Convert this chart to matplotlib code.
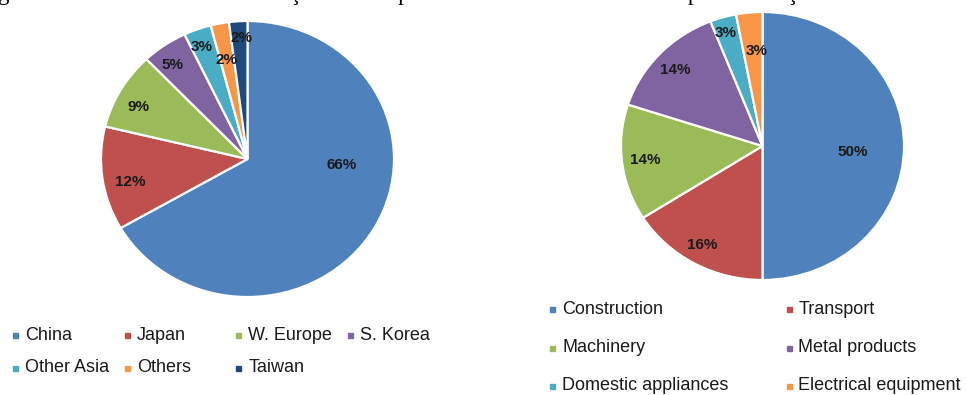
import matplotlib.pyplot as plt

plt.rcParams['font.family'] = ['Liberation Sans', 'DejaVu Sans']

# Finished steel demand by region
regions = ['China', 'Japan', 'W. Europe', 'S. Korea', 'Other Asia', 'Others', 'Taiwan']
region_share = [66, 12, 9, 5, 3, 2, 2]

# Finished steel demand by sector
sectors = ['Construction', 'Transport', 'Machinery', 'Metal products',
           'Domestic appliances', 'Electrical equipment']
sector_share = [50, 16, 14, 14, 3, 3]

region_colors = ['#4F81BD', '#C0504D', '#9BBB59', '#8064A2', '#4BACC6', '#F79646', '#1F497D']
sector_colors = ['#4F81BD', '#C0504D', '#9BBB59', '#8064A2', '#4BACC6', '#F79646']

# where the percentage labels sit inside each pie (unit radius)
region_label_xy = [(0.645, -0.043), (-0.802, -0.167), (-0.741, 0.377), (-0.515, 0.681),
                   (-0.311, 0.812), (-0.140, 0.717), (-0.038, 0.877)]
sector_label_xy = [(0.640, -0.045), (-0.428, -0.739), (-0.830, -0.104), (-0.618, 0.567),
                   (-0.258, 0.843), (-0.039, 0.709)]

W, H = 967, 395
fig = plt.figure(figsize=(W / 100, H / 100), dpi=100)

# overlay in pixel coordinates for the legends and the caption line
bg = fig.add_axes([0, 0, 1, 1], zorder=0)
bg.set_xlim(0, W)
bg.set_ylim(H, 0)
bg.axis('off')


def pie_axes(cx, cy, rx, ry):
    ax = fig.add_axes([(cx - rx) / W, (H - cy - ry) / H, 2 * rx / W, 2 * ry / H], zorder=1)
    ax.patch.set_alpha(0)
    return ax


def draw_pie(ax, values, colors, label_xy):
    ax.pie(values, colors=colors, startangle=90, counterclock=False,
           wedgeprops={'edgecolor': 'white', 'linewidth': 1.6, 'clip_on': False})
    ax.set_aspect('auto')
    ax.set_xlim(-1, 1)
    ax.set_ylim(-1, 1)
    ax.axis('off')
    for v, (x, y) in zip(values, label_xy):
        ax.text(x, y, f'{v}%', ha='center', va='center', fontsize=11,
                fontweight='bold', color='#1a1a1a', clip_on=False)


def draw_legend(names, colors, x0, y0, col_w, row_h, ncol):
    for i, (name, c) in enumerate(zip(names, colors)):
        x = x0 + (i % ncol) * col_w
        y = y0 + (i // ncol) * row_h
        bg.plot(x, y, marker='s', ms=3.6, color=c, mec=c)
        bg.text(x + 10, y, name, ha='left', va='center', fontsize=13, color='#1a1a1a')


draw_pie(pie_axes(247.5, 159, 146.5, 138), region_share, region_colors, region_label_xy)
draw_pie(pie_axes(762.5, 146, 141.5, 134), sector_share, sector_colors, sector_label_xy)

draw_legend(regions, region_colors, 15, 335, 111.7, 33, 4)
draw_legend(sectors, sector_colors, 552, 309, 236.5, 38.5, 2)

# caption line of the surrounding page, cut off at the top edge
bg.text(-2, 0, 'gura 3 – Demanda mundial de aço acabado para os setores consumidores e países de aço acabado',
        family='Liberation Serif', fontsize=16.5, ha='left', va='baseline', color='black')

fig.savefig('out.png', dpi=100, facecolor='white')
